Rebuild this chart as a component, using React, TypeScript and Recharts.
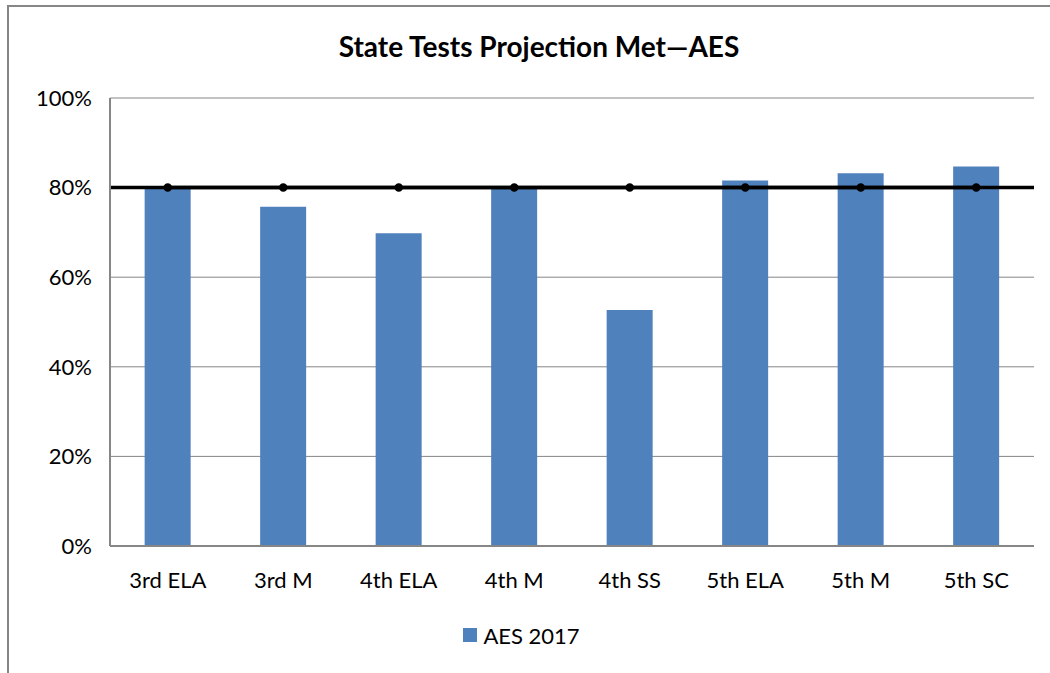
import { ComposedChart, Bar, Line, XAxis, YAxis, CartesianGrid, Legend, ReferenceLine } from "recharts";

// ── DATA ──────────────────────────────────────────────────────
const categories = ["3rd ELA", "3rd M", "4th ELA", "4th M", "4th SS", "5th ELA", "5th M", "5th SC"];
const aes2017 = [79.7, 75.7, 69.8, 79.8, 52.7, 81.6, 83.2, 84.7];
const target = [80, 80, 80, 80, 80, 80, 80, 80];
const yTicks = [0, 20, 40, 60, 80, 100];

const data = categories.map((c, i) => ({ name: c, aes: aes2017[i], target: target[i] }));

const FONT = "Lato, 'Open Sans', sans-serif";
const BAR = "#4F81BD";
const GRID = "#868686";

const LegendContent = () => (
    <div style={{ display: "flex", justifyContent: "center", alignItems: "center", fontFamily: FONT, fontSize: 22, color: "#000", height: 30 }}>
        <span style={{ width: 14, height: 14, background: BAR, display: "inline-block", marginRight: 6 }} />
        AES 2017
    </div>
);

export default function App() {
    return (
        <div style={{ position: "absolute", left: 7, top: 5, width: 1100, height: 700, border: `2px solid ${GRID}`, background: "#fff" }}>
            <div style={{ position: "absolute", left: 0, top: 22, width: 1060, textAlign: "center", fontFamily: FONT, fontWeight: 700, fontSize: 28, color: "#000" }}>
                State Tests Projection Met—AES
            </div>
            <ComposedChart
                width={1040} height={665} data={data}
                margin={{ top: 91, right: 15, left: 0, bottom: 66 }}
                barCategoryGap="30%"
            >
                <CartesianGrid vertical={false} stroke={GRID} strokeWidth={1} />
                <XAxis
                    dataKey="name" tickLine={false} axisLine={{ stroke: GRID, strokeWidth: 2 }}
                    tick={{ fontSize: 22, fill: "#000", fontFamily: FONT }} tickSize={0} tickMargin={26}
                    interval={0}
                />
                <YAxis
                    domain={[0, 100]} ticks={yTicks} width={101}
                    tickFormatter={(v) => `${v}%`}
                    tickLine={false} axisLine={{ stroke: GRID, strokeWidth: 2 }}
                    tick={{ fontSize: 22, fill: "#000", fontFamily: FONT }} tickSize={0} tickMargin={18}
                />
                <Bar dataKey="aes" name="AES 2017" fill={BAR} isAnimationActive={false} />
                <ReferenceLine y={80} stroke="#000" strokeWidth={3.5} />
                <Line
                    dataKey="target" stroke="#000" strokeWidth={3.5} legendType="none"
                    dot={{ r: 2.5, fill: "#000", stroke: "#000" }} isAnimationActive={false}
                />
                <Legend content={<LegendContent />} verticalAlign="bottom" wrapperStyle={{ bottom: 22 }} />
            </ComposedChart>
        </div>
    );
}
